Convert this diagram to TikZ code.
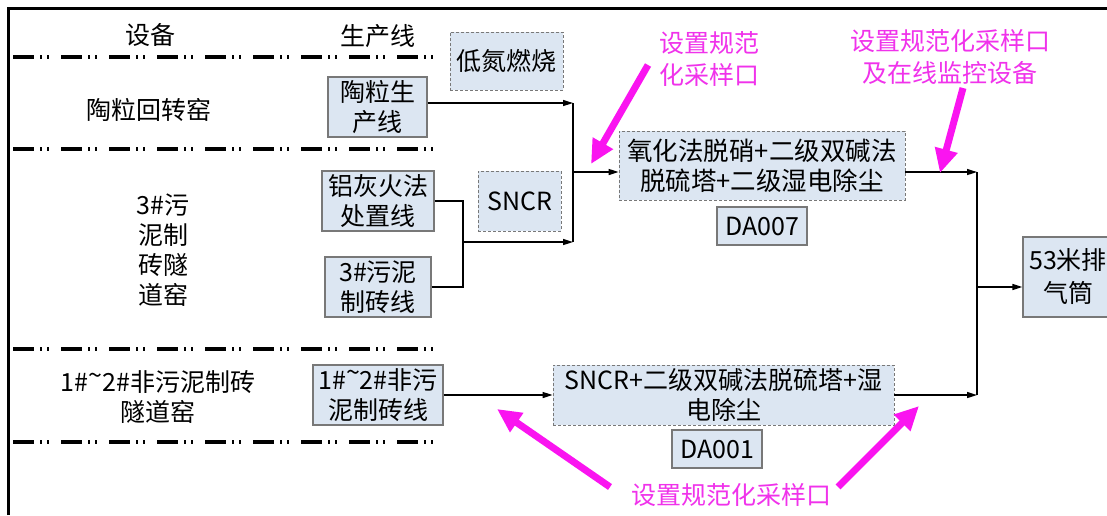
\documentclass[tikz,border=0pt]{standalone}
\usepackage{fontspec}
\newfontfamily\cjk{Noto Sans CJK SC}
\usetikzlibrary{arrows.meta}
\definecolor{boxfill}{RGB}{220,230,242}
\definecolor{boxline}{RGB}{120,120,120}
\definecolor{mag}{RGB}{250,20,240}
\definecolor{magtext}{RGB}{240,50,235}
\newcommand\mytilde{\raisebox{0.3em}{\textasciitilde}}
\begin{document}
\begin{tikzpicture}[x=1pt,y=-1pt,
  txt/.style={font=\cjk\fontsize{25}{30}\selectfont, align=center, inner sep=0pt},
  solidbox/.style={txt, draw=boxline, fill=boxfill, line width=1.2pt},
  dashbox/.style={txt, draw=boxline, fill=boxfill, line width=0.9pt, dash pattern=on 3pt off 2pt},
  sepline/.style={line width=3.2pt, dash pattern=on 21pt off 6pt on 2pt off 5pt on 2pt off 12pt},
  conn/.style={line width=1.5pt},
  arr/.style={conn, -{Triangle[length=10pt,width=6pt]}},
  magarr/.style={draw=mag, line width=7pt, -{Triangle[length=24pt,width=22pt]}},
  magtxt/.style={font=\cjk\fontsize{25}{32}\selectfont, align=center, inner sep=0pt, text=magtext}
]
\useasboundingbox (0,0) rectangle (1107,515);
\clip (0,0) rectangle (1107,515);
\fill[white] (0,0) rectangle (1107,515);

% frame
\draw[line width=3pt] (8,515) -- (8,8) -- (1107,8);

% separator lines
\draw[sepline] (13,57) -- (434,57);
\draw[sepline] (13,149) -- (434,149);
\draw[sepline] (13,349) -- (434,349);
\draw[sepline] (13,442) -- (434,442);

% left column texts
\node[txt] (h1) at (150,35) {设备};
\node[txt] (h2) at (378,36) {生产线};
\node[txt] (k1) at (149,110) {陶粒回转窑};
\node[txt] (k2) at (163,250) {3\#污\\泥制\\砖隧\\道窑};
\node[txt] (k3) at (158,397) {1\#\mytilde 2\#非污泥制砖\\隧道窑};

% boxes
\node[solidbox, minimum width=99pt, minimum height=60pt] (lp) at (377.5,107) {陶粒生\\产线};
\node[dashbox, minimum width=113pt, minimum height=58pt] (dn) at (506.5,61) {低氮燃烧};
\node[dashbox, minimum width=83pt, minimum height=60pt] (sncr) at (519.5,201) {SNCR};
\node[solidbox, minimum width=112pt, minimum height=60pt] (lh) at (378,201) {铝灰火法\\处置线};
\node[solidbox, minimum width=106pt, minimum height=60pt] (w3) at (378,287) {3\#污泥\\制砖线};
\node[solidbox, minimum width=130pt, minimum height=60pt] (f12) at (378,395) {1\#\mytilde 2\#非污\\泥制砖线};
\node[dashbox, minimum width=286pt, minimum height=69pt, font=\cjk\fontsize{25.5}{30}\selectfont] (main) at (762,165.5) {氧化法脱硝+二级双碱法\\脱硫塔+二级湿电除尘};
\node[solidbox, minimum width=90pt, minimum height=38pt] (da7) at (762,226) {DA007};
\node[dashbox, minimum width=341pt, minimum height=60pt] (s2) at (723.5,395) {SNCR+二级双碱法脱硫塔+湿\\电除尘};
\node[solidbox, minimum width=90pt, minimum height=38pt] (da1) at (717,449) {DA001};
\node[solidbox, minimum width=90pt, minimum height=80pt, font=\cjk\fontsize{25}{33}\selectfont] (stack) at (1068,277) {53米排\\气筒};

% connector coordinates
\coordinate (bT) at (573,103);
\coordinate (bB) at (573,242);
\coordinate (bM) at (573,172);
\coordinate (j1) at (463,242);
\coordinate (cT) at (977,172);
\coordinate (cB) at (977,395);
\coordinate (cM) at (977,287);

% connectors
\draw[conn] (bT) -- (bB);
\draw[arr] (lp.east |- bT) -- (bT);
\draw[conn] (lh.east) -| (j1);
\draw[conn] (w3.east) -| (j1);
\draw[arr] (j1) -- (bB);
\draw[arr] (bM) -- (bM -| main.west);
\draw[arr] (main.east |- cT) -- (cT);
\draw[conn] (cT) -- (cB);
\draw[arr] (s2.east) -- (cB);
\draw[arr] (cM) -- (cM -| stack.west);
\draw[arr] (f12.east) -- (s2.west);

% magenta labels
\node[magtxt] (l1) at (709,59) {设置规范\\化采样口};
\node[magtxt] (l2) at (950,57) {设置规范化采样口\\及在线监控设备};
\node[magtxt] (l3) at (731,495) {设置规范化采样口};

% magenta arrows
\coordinate (m1a) at (648,65);
\coordinate (m1b) at (591,164);
\coordinate (m2a) at (963,88);
\coordinate (m2b) at (940,173);
\coordinate (m3a) at (610,487);
\coordinate (m3b) at (497,409);
\coordinate (m4a) at (838,487);
\coordinate (m4b) at (919,406);
\draw[magarr] (m1a) -- (m1b);
\draw[magarr] (m2a) -- (m2b);
\draw[magarr] (m3a) -- (m3b);
\draw[magarr] (m4a) -- (m4b);
\end{tikzpicture}
\end{document}
